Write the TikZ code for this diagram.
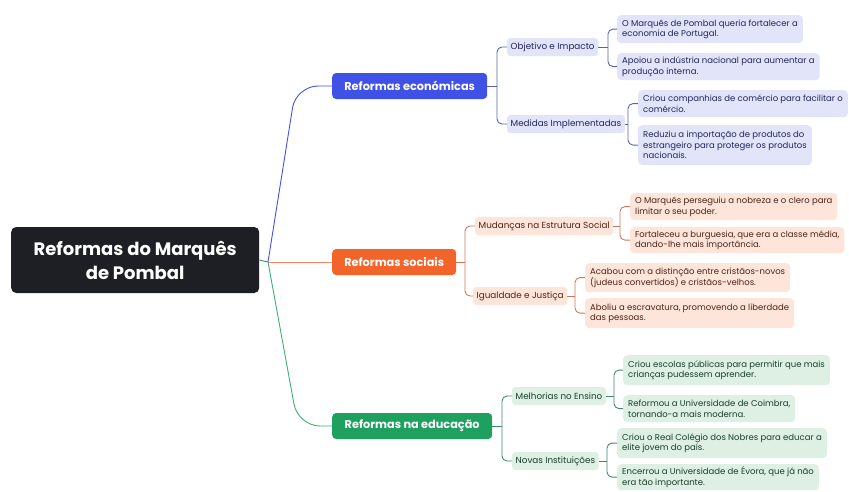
\documentclass[tikz,border=0pt]{standalone}
\usepackage{fontspec}
\setmainfont{Poppins}
\definecolor{rootc}{RGB}{30,31,36}
\definecolor{blueM}{RGB}{64,82,230}
\definecolor{blueL}{RGB}{226,228,250}
\definecolor{blueT}{RGB}{34,38,90}
\definecolor{blueC}{RGB}{92,98,170}
\definecolor{oraM}{RGB}{242,100,42}
\definecolor{oraL}{RGB}{253,229,218}
\definecolor{oraT}{RGB}{80,35,20}
\definecolor{oraC}{RGB}{205,120,90}
\definecolor{oraR}{RGB}{242,135,105}
\definecolor{grnM}{RGB}{30,160,95}
\definecolor{grnL}{RGB}{222,240,228}
\definecolor{grnT}{RGB}{25,62,44}
\definecolor{grnC}{RGB}{60,140,105}
\begin{document}
\begin{tikzpicture}[x=1pt,y=-1pt,
  rootbox/.style={fill=rootc, text=white, rounded corners=5pt, font=\fontsize{18}{24}\selectfont\bfseries, align=center, minimum width=248pt, minimum height=66pt, anchor=west, inner sep=0pt},
  lone/.style={rounded corners=4pt, text=white, font=\fontsize{11.3}{13}\selectfont\bfseries, minimum height=26pt, anchor=west, inner sep=0pt},
  ltwo/.style={rounded corners=3pt, font=\fontsize{8.8}{10}\selectfont, minimum height=18pt, anchor=west, inner xsep=3.5pt, inner ysep=0pt},
  leaf/.style={rounded corners=4pt, font=\fontsize{8.5}{10.5}\selectfont, anchor=north west, align=left, inner xsep=5pt, inner ysep=1pt},
  bl/.style={fill=blueL, text=blueT},
  ol/.style={fill=oraL, text=oraT},
  gl/.style={fill=grnL, text=grnT},
  conn/.style={line width=0.9pt, rounded corners=5pt},
  rconn/.style={line width=0.9pt, rounded corners=22pt}
]
\useasboundingbox (0,0) rectangle (849,491);

% root
\node[rootbox] (root) at (11,260) {Reformas do Marquês\\de Pombal};

% level 1
\node[lone, fill=blueM, minimum width=155pt] (econ) at (332,86) {Reformas económicas};
\node[lone, fill=oraM, minimum width=124pt] (soc) at (332,262) {Reformas sociais};
\node[lone, fill=grnM, minimum width=160pt] (edu) at (332,426) {Reformas na educação};

% level 2
\node[ltwo, bl] (obj) at (507,47) {Objetivo e Impacto};
\node[ltwo, bl] (med) at (507,124) {Medidas Implementadas};
\node[ltwo, ol] (mud) at (475,226) {Mudanças na Estrutura Social};
\node[ltwo, ol] (igu) at (473,296) {Igualdade e Justiça};
\node[ltwo, gl] (mel) at (512,396) {Melhorias no Ensino};
\node[ltwo, gl] (nov) at (512,461) {Novas Instituições};

% leaves
\node[leaf, bl, minimum height=28pt] (e1) at (617,15) {O Marquês de Pombal queria fortalecer a\\economia de Portugal.};
\node[leaf, bl, minimum height=27pt] (e2) at (617,53) {Apoiou a indústria nacional para aumentar a\\produção interna.};
\node[leaf, bl, minimum height=27pt] (e3) at (638,90) {Criou companhias de comércio para facilitar o\\comércio.};
\node[leaf, bl, minimum height=40pt] (e4) at (638,125) {Reduziu a importação de produtos do\\estrangeiro para proteger os produtos\\nacionais.};

\node[leaf, ol, minimum height=27pt] (s1) at (630,193) {O Marquês perseguiu a nobreza e o clero para\\limitar o seu poder.};
\node[leaf, ol, minimum height=26pt] (s2) at (630,227) {Fortaleceu a burguesia, que era a classe média,\\dando-lhe mais importância.};
\node[leaf, ol, minimum height=29pt] (s3) at (585,263) {Acabou com a distinção entre cristãos-novos\\(judeus convertidos) e cristãos-velhos.};
\node[leaf, ol, minimum height=30pt] (s4) at (585,298) {Aboliu a escravatura, promovendo a liberdade\\das pessoas.};

\node[leaf, gl, minimum height=30pt] (d1) at (623,355) {Criou escolas públicas para permitir que mais\\crianças pudessem aprender.};
\node[leaf, gl, minimum height=27pt] (d2) at (623,395) {Reformou a Universidade de Coimbra,\\tornando-a mais moderna.};
\node[leaf, gl, minimum height=30pt] (d3) at (617,428) {Criou o Real Colégio dos Nobres para educar a\\elite jovem do país.};
\node[leaf, gl, minimum height=26pt] (d4) at (617,464) {Encerrou a Universidade de Évora, que já não\\era tão importante.};

% root connectors
\coordinate (J) at (268,262);
\draw[line width=0.9pt, grnC] (root.east) -- (J);
\draw[rconn, blueM] (J) -- (296,86) -- (econ.west);
\draw[line width=0.9pt, oraR] (J) -- (soc.west);
\draw[rconn, grnM!85] (J) -- (298,426) -- (edu.west);

% level1 -> level2
\draw[conn, blueC] (econ.east) -- (497,86);
\draw[conn, blueC] (obj.west) -- (497,47) -- (497,124) -- (med.west);
\draw[conn, oraC] (soc.east) -- (465,262);
\draw[conn, oraC] (mud.west) -- (465,226) -- (465,296) -- (igu.west);
\draw[conn, grnC] (edu.east) -- (502,426);
\draw[conn, grnC] (mel.west) -- (502,396) -- (502,461) -- (nov.west);

% level2 -> leaves
\draw[conn, blueC] (obj.east) -- (608,47);
\draw[conn, blueC] (e1.west) -- (608,29) -- (608,66.5) -- (e2.west);
\draw[conn, blueC] (med.east) -- (628,124);
\draw[conn, blueC] (e3.west) -- (628,103.5) -- (628,145) -- (e4.west);
\draw[conn, oraC] (mud.east) -- (620,226);
\draw[conn, oraC] (s1.west) -- (620,206.5) -- (620,240) -- (s2.west);
\draw[conn, oraC] (igu.east) -- (575,296);
\draw[conn, oraC] (s3.west) -- (575,277.5) -- (575,313) -- (s4.west);
\draw[conn, grnC] (mel.east) -- (614,396);
\draw[conn, grnC] (d1.west) -- (614,370) -- (614,408.5) -- (d2.west);
\draw[conn, grnC] (nov.east) -- (607,461);
\draw[conn, grnC] (d3.west) -- (607,443) -- (607,477) -- (d4.west);
\end{tikzpicture}
\end{document}
